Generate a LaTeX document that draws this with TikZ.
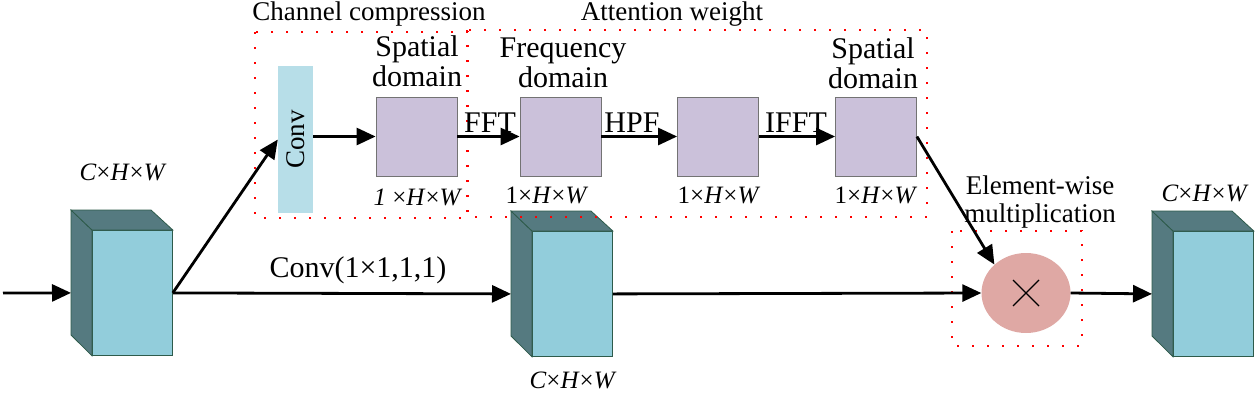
\documentclass[tikz,border=0pt]{standalone}
\usepackage{fontspec}
\setmainfont{Liberation Serif}
\usetikzlibrary{shapes.geometric,arrows.meta,calc}
\definecolor{cubefront}{HTML}{92CDDB}
\definecolor{cubeside}{HTML}{557A80}
\definecolor{cubeedge}{HTML}{2E5B4B}
\definecolor{purp}{HTML}{CBC1DA}
\definecolor{convblue}{HTML}{B7DEE8}
\definecolor{pinkc}{HTML}{DFA8A4}
\newcommand\mycube[3]{%
  \node[draw=cubeedge, line width=0.8pt, fill=cubefront, minimum width=80pt, minimum height=125pt, inner sep=0pt, anchor=north west] (#1) at (#2,#3) {};
  \filldraw[draw=cubeedge, line width=0.8pt, fill=cubeside] (#1.north west) -- ++(-21,-20) -- ++(0,125) -- (#1.south west) -- cycle;
  \filldraw[draw=cubeedge, line width=0.8pt, fill=cubeside] (#1.north west) -- ++(-21,-20) -- ++(80,0) -- (#1.north east) -- cycle;
  \coordinate (#1-back) at ([xshift=-21pt]#1.west);
}
\begin{document}
\begin{tikzpicture}[x=1pt,y=-1pt,
  arr/.style={line width=2.8pt,-{Triangle[length=19pt,width=17pt]}},
  pbox/.style={draw=gray!90!black, fill=purp, minimum width=81pt, minimum height=79pt, inner sep=0pt, line width=0.8pt},
  reddot/.style={red, line width=2pt, dash pattern=on 2pt off 13pt},
  big/.style={font=\fontsize{30}{30}\selectfont, align=center},
  hdr/.style={font=\fontsize{27}{28}\selectfont, align=center},
  dim/.style={font=\fontsize{25}{28}\selectfont}]
\useasboundingbox (0,0) rectangle (1257,392);

% cubes
\mycube{cubeA}{92}{230}
\mycube{cubeB}{532}{231}
\mycube{cubeC}{1173}{231}

% conv and purple boxes
\node[fill=convblue, minimum width=35pt, minimum height=147pt, inner sep=0pt] (conv) at (295.5,139.5) {\rotatebox{90}{\fontsize{27}{28}\selectfont Conv}};
\node[pbox] (b1) at (416.5,136.5) {};
\node[pbox] (b2) at (560.5,136.5) {};
\node[pbox] (b3) at (718,136.5) {};
\node[pbox] (b4) at (876,136.5) {};

% multiplication
\node[ellipse, fill=pinkc, minimum width=89pt, minimum height=80pt, inner sep=0pt] (mul) at (1026,293) {};
\draw[line width=1.3pt] ([shift={(-13,-13)}]mul.center) -- ([shift={(13,13)}]mul.center);
\draw[line width=1.3pt] ([shift={(-13,13)}]mul.center) -- ([shift={(13,-13)}]mul.center);

% dotted frames
\draw[reddot] (255,32) rectangle (468,218);
\draw[reddot] (467,30) rectangle (927,217);
\draw[reddot] (952,231) rectangle (1082,346);

% connectors
\coordinate (in) at (3,293);
\draw[arr] (in) -- (cubeA-back);
\draw[arr] (cubeA.east) -- (conv.west);
\draw[arr] (cubeA.east) -- (cubeB-back);
\draw[arr] (conv.east |- b1.west) -- (b1.west);
\draw[arr] (b1.east) -- (b2.west);
\draw[arr] (b2.east) -- (b3.west);
\draw[arr] (b3.east) -- (b4.west);
\draw[arr] (b4.east) -- (mul.north west);
\draw[arr] (cubeB.east) -- (mul.west);
\draw[arr] (mul.east) -- (cubeC-back);

% texts
\node[hdr] (t1) at (369,14) {Channel compression};
\node[hdr] (t2) at (672,14) {Attention weight};
\node[big] (t3) at (417,61) {Spatial\\domain};
\node[big] (t4) at (563,63) {Frequency\\domain};
\node[big] (t5) at (873,63) {Spatial\\domain};
\node[big] (t6) at (490,123) {FFT};
\node[big] (t7) at (632,123) {HPF};
\node[big] (t8) at (796,123) {IFFT};
\node[dim] (d1) at (418,197) {\textit{1} \texttimes\textit{H}\texttimes\textit{W}};
\node[dim] (d2) at (547,195) {1\texttimes\textit{H}\texttimes\textit{W}};
\node[dim] (d3) at (719,195) {1\texttimes\textit{H}\texttimes\textit{W}};
\node[dim] (d4) at (876,195) {1\texttimes\textit{H}\texttimes\textit{W}};
\node[dim] (c1) at (123,172) {\textit{C}\texttimes\textit{H}\texttimes\textit{W}};
\node[dim] (c2) at (573,380) {\textit{C}\texttimes\textit{H}\texttimes\textit{W}};
\node[dim] (c3) at (1205,193) {\textit{C}\texttimes\textit{H}\texttimes\textit{W}};
\node[hdr] (t9) at (1040,202) {Element-wise\\multiplication};
\node[big] (t10) at (358,270) {Conv(1\texttimes1,1,1)};
\end{tikzpicture}
\end{document}
